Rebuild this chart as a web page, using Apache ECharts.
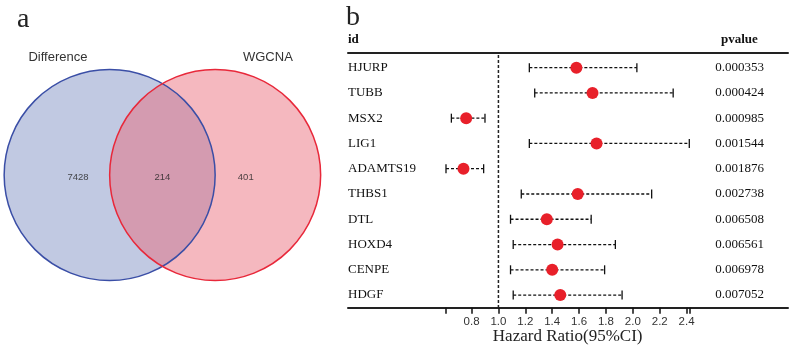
<!DOCTYPE html>
<html>
<head>
<meta charset="utf-8">
<script src="https://cdn.jsdelivr.net/npm/echarts@6/dist/echarts.min.js"></script>
<style>
  html, body { margin: 0; padding: 0; background: #fff; }
  #main { width: 794px; height: 348px; }
</style>
</head>
<body>
<div id="main"></div>
<script>
// ---- data: panel a (venn) ----
var setNames = ['Difference', 'WGCNA'];
var regionCounts = [7428, 214, 401]; // only Difference, both, only WGCNA

// ---- data: panel b (forest plot) ----
var genes = ['HJURP', 'TUBB', 'MSX2', 'LIG1', 'ADAMTS19', 'THBS1', 'DTL', 'HOXD4', 'CENPE', 'HDGF'];
var hazardRatio = [1.58, 1.70, 0.76, 1.73, 0.74, 1.59, 1.36, 1.44, 1.40, 1.46];
var lowerCI = [1.23, 1.27, 0.65, 1.23, 0.61, 1.17, 1.09, 1.11, 1.09, 1.11];
var upperCI = [2.03, 2.30, 0.90, 2.42, 0.89, 2.14, 1.69, 1.87, 1.79, 1.92];
var pvalues = ['0.000353', '0.000424', '0.000985', '0.001544', '0.001876',
               '0.002738', '0.006508', '0.006561', '0.006978', '0.007052'];
var hrTicks = [0.8, 1.0, 1.2, 1.4, 1.6, 1.8, 2.0, 2.2, 2.4];

// layout of venn (in circle radius units)
var vennCenters = [-0.5, 0.5];
var vennNamePos = [[-0.99, 1.11], [1.0, 1.11]];
var vennCountX = [-0.8, 0, 0.79];
var vennFill = ['#c1c9e2', 'rgba(234,104,119,0.47)'];
var vennStroke = ['#3a4ea6', '#e8283a'];

var hrMin = Math.min.apply(null, lowerCI);
var hrMax = Math.max.apply(null, upperCI);
var rowIdx = genes.map(function (g, i) { return i; });

var chart = echarts.init(document.getElementById('main'));

var serif = '"Liberation Serif", "Times New Roman", serif';
var sans = '"Liberation Sans", Arial, sans-serif';

function vennCircle(params, api, isStroke) {
    var c = api.coord([api.value(0), api.value(1)]);
    var r = api.size([1, 1])[0];
    var i = params.dataIndex;
    if (!isStroke) {
        return {
            type: 'circle',
            shape: { cx: c[0], cy: c[1], r: r },
            style: { fill: vennFill[i], stroke: null }
        };
    }
    var p = api.coord(vennNamePos[i]);
    return {
        type: 'group',
        children: [{
            type: 'circle',
            shape: { cx: c[0], cy: c[1], r: r },
            style: { fill: null, stroke: vennStroke[i], lineWidth: 1.5 }
        }, {
            type: 'text',
            style: {
                x: p[0], y: p[1], text: setNames[i],
                fill: '#333', font: '13px ' + sans,
                align: 'center', verticalAlign: 'middle'
            }
        }]
    };
}

function rowAxis(position, labels, margin) {
    return {
        gridIndex: 0,
        type: 'value',
        position: position,
        min: -0.5,
        max: genes.length - 0.5,
        inverse: true,
        splitLine: { show: false },
        axisLine: { show: false },
        axisTick: { show: false },
        axisLabel: {
            customValues: rowIdx,
            formatter: function (v) { return labels[Math.round(v)]; },
            align: 'left',
            margin: margin,
            color: '#111',
            fontFamily: serif,
            fontSize: 13
        }
    };
}

var option = {
    animation: false,
    backgroundColor: '#fff',
    graphic: [
        { type: 'text', left: 17, top: 6, style: { text: 'a', font: '28px ' + serif, fill: '#222' } },
        { type: 'text', left: 346, top: 4, style: { text: 'b', font: '28px ' + serif, fill: '#222' } },
        { type: 'text', left: 348, top: 33, style: { text: 'id', font: 'bold 13px ' + serif, fill: '#111' } },
        { type: 'text', left: 721, top: 33, style: { text: 'pvalue', font: 'bold 13px ' + serif, fill: '#111' } }
    ],
    grid: [
        // forest plot
        { left: 446, top: 55, width: 243.3, height: 252.7, outerBoundsMode: 'none' },
        // full-width table rules
        { left: 348, top: 52.3, width: 440, height: 255.4, outerBoundsMode: 'none' },
        // venn
        { left: 4.15, top: 16.75, width: 316.5, height: 316.5, outerBoundsMode: 'none' }
    ],
    xAxis: [{
        gridIndex: 0,
        type: 'value',
        min: hrMin,
        max: hrMax,
        splitLine: { show: false },
        axisLine: { show: false, onZero: false },
        axisTick: {
            show: true,
            length: 6,
            customValues: [hrMin].concat(hrTicks, [hrMax]),
            lineStyle: { color: '#111', width: 1.5 }
        },
        axisLabel: {
            customValues: hrTicks,
            margin: 8,
            color: '#333',
            fontFamily: sans,
            fontSize: 11.5,
            formatter: function (v) { return v.toFixed(1); }
        },
        name: 'Hazard Ratio(95%CI)',
        nameLocation: 'middle',
        nameGap: 20,
        nameMoveOverlap: false,
        nameTextStyle: { fontFamily: serif, fontSize: 17, color: '#222' }
    }, {
        gridIndex: 1, type: 'value', position: 'top', min: 0, max: 1,
        axisLine: { show: true, onZero: false, lineStyle: { color: '#222', width: 2 } },
        axisTick: { show: false }, axisLabel: { show: false }, splitLine: { show: false }
    }, {
        gridIndex: 1, type: 'value', position: 'bottom', min: 0, max: 1,
        axisLine: { show: true, onZero: false, lineStyle: { color: '#222', width: 2 } },
        axisTick: { show: false }, axisLabel: { show: false }, splitLine: { show: false }
    }, {
        gridIndex: 2, type: 'value', min: -1.5, max: 1.5, show: false
    }],
    yAxis: [
        rowAxis('left', genes, 98),
        rowAxis('right', pvalues, 26),
        { gridIndex: 1, type: 'value', min: 0, max: 1, show: false },
        { gridIndex: 2, type: 'value', min: -1.5, max: 1.5, show: false }
    ],
    series: [{
        // confidence intervals
        type: 'custom',
        xAxisIndex: 0,
        yAxisIndex: 0,
        data: rowIdx.map(function (i) { return [lowerCI[i], upperCI[i], i]; }),
        encode: { x: [0, 1], y: 2 },
        renderItem: function (params, api) {
            var a = api.coord([api.value(0), api.value(2)]);
            var b = api.coord([api.value(1), api.value(2)]);
            var h = 4.5;
            var st = { stroke: '#111', lineWidth: 1.3 };
            return {
                type: 'group',
                children: [{
                    type: 'line',
                    shape: { x1: a[0], y1: a[1], x2: b[0], y2: b[1] },
                    style: { stroke: '#111', lineWidth: 1.3, lineDash: [3, 2] }
                }, {
                    type: 'line',
                    shape: { x1: a[0], y1: a[1] - h, x2: a[0], y2: a[1] + h },
                    style: st
                }, {
                    type: 'line',
                    shape: { x1: b[0], y1: b[1] - h, x2: b[0], y2: b[1] + h },
                    style: st
                }]
            };
        },
        z: 2
    }, {
        // reference line at HR = 1
        type: 'line',
        xAxisIndex: 0,
        yAxisIndex: 0,
        data: [[1, -0.5], [1, genes.length - 0.5]],
        symbol: 'none',
        silent: true,
        lineStyle: { color: '#222', type: [3, 2], width: 1.5 },
        z: 1
    }, {
        // hazard ratio points
        type: 'scatter',
        xAxisIndex: 0,
        yAxisIndex: 0,
        data: rowIdx.map(function (i) { return [hazardRatio[i], i]; }),
        symbol: 'circle',
        symbolSize: 12,
        itemStyle: { color: '#e8202a', opacity: 1 },
        z: 3
    }, {
        // venn fills
        type: 'custom',
        xAxisIndex: 3,
        yAxisIndex: 3,
        data: setNames.map(function (n, i) { return [vennCenters[i], 0]; }),
        renderItem: function (params, api) { return vennCircle(params, api, false); },
        z: 1
    }, {
        // venn outlines and set names
        type: 'custom',
        xAxisIndex: 3,
        yAxisIndex: 3,
        data: setNames.map(function (n, i) { return [vennCenters[i], 0]; }),
        renderItem: function (params, api) { return vennCircle(params, api, true); },
        z: 2
    }, {
        // venn region counts
        type: 'scatter',
        xAxisIndex: 3,
        yAxisIndex: 3,
        symbolSize: 0,
        data: regionCounts.map(function (v, i) { return { value: [vennCountX[i], -0.02], count: v }; }),
        label: {
            show: true,
            position: 'inside',
            formatter: function (p) { return String(p.data.count); },
            color: '#222',
            fontFamily: sans,
            fontSize: 9.5
        },
        z: 3
    }]
};

chart.setOption(option);

window.addEventListener('resize', function () {
    chart.resize();
});
</script>
</body>
</html>
